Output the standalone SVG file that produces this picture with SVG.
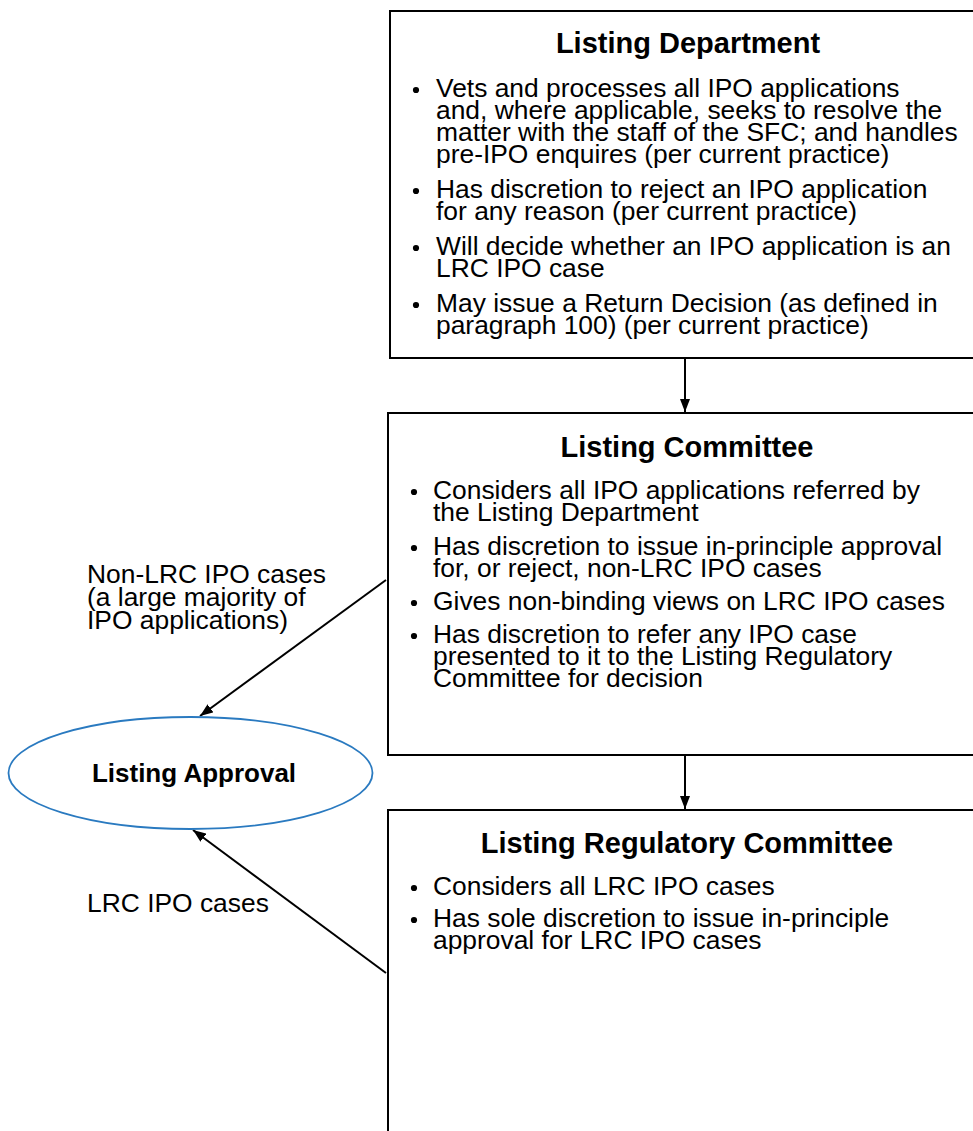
<svg xmlns="http://www.w3.org/2000/svg" width="973" height="1131" viewBox="0 0 973 1131">
<style>
.box{fill:#fff;stroke:#000;stroke-width:2}
.t{font-family:"Liberation Sans",Arial,sans-serif;font-size:26.4px;fill:#000}
.h{font-family:"Liberation Sans",Arial,sans-serif;font-size:29px;font-weight:bold;fill:#000;text-anchor:middle}
.c{stroke:#000;stroke-width:2;fill:none}
.b{fill:#000}
</style>
<defs>
<marker id="ah" viewBox="0 0 13 10" refX="13" refY="5" markerWidth="13" markerHeight="10" markerUnits="userSpaceOnUse" orient="auto">
<path d="M0,0 L13,5 L0,10 z" fill="#000"/>
</marker>
</defs>
<rect width="973" height="1131" fill="#fff"/>
<g id="connectors">
<line class="c" x1="685" y1="359" x2="685" y2="412" marker-end="url(#ah)"/>
<line class="c" x1="685" y1="756" x2="685" y2="809" marker-end="url(#ah)"/>
<line class="c" x1="386" y1="580" x2="200" y2="716" marker-end="url(#ah)"/>
<line class="c" x1="386" y1="973" x2="193" y2="830" marker-end="url(#ah)"/>
</g>
<g id="listing-department">
<rect class="box" x="390" y="11" width="600" height="347"/>
<text class="h" x="688" y="53">Listing Department</text>
<circle class="b" cx="416" cy="90" r="3.1"/>
<circle class="b" cx="416" cy="191" r="3.1"/>
<circle class="b" cx="416" cy="248" r="3.1"/>
<circle class="b" cx="416" cy="305" r="3.1"/>
<g class="t">
<text x="436" y="97">Vets and processes all IPO applications</text>
<text x="436" y="119">and, where applicable, seeks to resolve the</text>
<text x="436" y="141">matter with the staff of the SFC; and handles</text>
<text x="436" y="163">pre-IPO enquires (per current practice)</text>
<text x="436" y="198">Has discretion to reject an IPO application</text>
<text x="436" y="220">for any reason (per current practice)</text>
<text x="436" y="255">Will decide whether an IPO application is an</text>
<text x="436" y="277">LRC IPO case</text>
<text x="436" y="312">May issue a Return Decision (as defined in</text>
<text x="436" y="334">paragraph 100) (per current practice)</text>
</g>
</g>
<g id="listing-committee">
<rect class="box" x="388" y="413" width="602" height="342"/>
<text class="h" x="687" y="457">Listing Committee</text>
<circle class="b" cx="414" cy="492" r="3.1"/>
<circle class="b" cx="414" cy="548" r="3.1"/>
<circle class="b" cx="414" cy="603" r="3.1"/>
<circle class="b" cx="414" cy="636" r="3.1"/>
<g class="t">
<text x="433" y="499">Considers all IPO applications referred by</text>
<text x="433" y="521">the Listing Department</text>
<text x="433" y="555">Has discretion to issue in-principle approval</text>
<text x="433" y="577">for, or reject, non-LRC IPO cases</text>
<text x="433" y="610">Gives non-binding views on LRC IPO cases</text>
<text x="433" y="643">Has discretion to refer any IPO case</text>
<text x="433" y="665">presented to it to the Listing Regulatory</text>
<text x="433" y="687">Committee for decision</text>
</g>
</g>
<g id="listing-regulatory-committee">
<rect class="box" x="388" y="810" width="602" height="340"/>
<text class="h" x="687" y="853">Listing Regulatory Committee</text>
<circle class="b" cx="414" cy="888" r="3.1"/>
<circle class="b" cx="414" cy="920" r="3.1"/>
<g class="t">
<text x="433" y="895">Considers all LRC IPO cases</text>
<text x="433" y="927">Has sole discretion to issue in-principle</text>
<text x="433" y="949">approval for LRC IPO cases</text>
</g>
</g>
<g id="listing-approval">
<ellipse cx="190.5" cy="773" rx="182" ry="56" fill="#fff" stroke="#2a7ac0" stroke-width="1.8"/>
<text x="194" y="782" font-family="Liberation Sans, Arial, sans-serif" font-size="26" font-weight="bold" text-anchor="middle">Listing Approval</text>
</g>
<g id="labels" class="t">
<text x="87" y="583">Non-LRC IPO cases</text>
<text x="87" y="606">(a large majority of</text>
<text x="87" y="629">IPO applications)</text>
<text x="87" y="912">LRC IPO cases</text>
</g>
</svg>
